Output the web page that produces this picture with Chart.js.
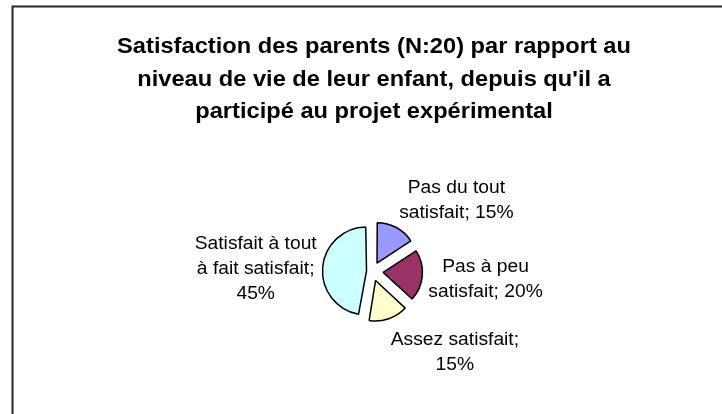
<!DOCTYPE html>
<html lang="fr">
<head>
<meta charset="utf-8">
<title>Satisfaction des parents</title>
<script src="https://cdn.jsdelivr.net/npm/chart.js@4/dist/chart.umd.min.js"></script>
<style>
  html, body { margin: 0; padding: 0; background: #fff; }
  #wrap { width: 722px; height: 414px; position: relative; }
</style>
</head>
<body>
<div id="wrap"><canvas id="pie" width="722" height="414"></canvas></div>
<script>
const titleLines = [
  'Satisfaction des parents (N:20) par rapport au',
  "niveau de vie de leur enfant, depuis qu'il a",
  'participé au projet expérimental'
];
const categories = [
  'Pas du tout satisfait',
  'Pas à peu satisfait',
  'Assez satisfait',
  'Satisfait à tout à fait satisfait'
];
const values = [15, 20, 15, 45];
const colors = ['#9999FF', '#993366', '#FFFFCC', '#CCFFFF'];

const FONT = 'Arial, "Liberation Sans", sans-serif';
const STRETCH = 1.1;    // text is a little wider than plain Arial
const EXPLODE = 11;     // distance each slice is pulled out
const RADIUS = 39;
const LABEL_GAP = 6;
const LABEL_WRAP = 135;
const LABEL_LINE = 25;

const total = values.reduce((s, v) => s + v, 0);

// Chart.js moves an arc by offset/4 * (2 - sin(circumference)); undo that
// so every slice sits the same distance from the centre
function sliceOffset(ctx) {
  const circ = ctx.dataset.data[ctx.dataIndex] / total * Math.PI * 2;
  return EXPLODE * 4 / (2 - Math.sin(Math.min(Math.PI, circ)));
}

function wrapText(ctx, text, maxWidth) {
  const words = text.split(' ');
  const lines = [];
  let line = '';
  words.forEach(w => {
    const test = line ? line + ' ' + w : w;
    if (line && ctx.measureText(test).width * STRETCH > maxWidth) {
      lines.push(line);
      line = w;
    } else {
      line = test;
    }
  });
  if (line) lines.push(line);
  return lines;
}

function drawStretched(ctx, text, x, y) {
  ctx.save();
  ctx.translate(x, y);
  ctx.scale(STRETCH, 1);
  ctx.fillText(text, 0, 0);
  ctx.restore();
}

const clamp = v => Math.max(-1, Math.min(1, v));

const framePlugin = {
  id: 'frame',
  beforeDraw(chart) {
    const ctx = chart.ctx;
    ctx.save();
    ctx.fillStyle = '#fff';
    ctx.fillRect(0, 0, chart.width, chart.height);
    ctx.strokeStyle = '#262626';
    ctx.lineWidth = 2;
    ctx.beginPath();
    ctx.moveTo(chart.width, 6.5);
    ctx.lineTo(12.5, 6.5);
    ctx.lineTo(12.5, chart.height);
    ctx.stroke();

    // title
    ctx.fillStyle = '#000';
    ctx.font = 'bold 21.5px ' + FONT;
    ctx.textAlign = 'center';
    ctx.textBaseline = 'middle';
    titleLines.forEach((t, i) => drawStretched(ctx, t, 374, 47.5 + i * 32.5));
    ctx.restore();
  }
};

const labelPlugin = {
  id: 'sliceLabels',
  afterDatasetsDraw(chart) {
    const ctx = chart.ctx;
    const meta = chart.getDatasetMeta(0);
    ctx.save();
    ctx.fillStyle = '#000';
    ctx.font = '17.5px ' + FONT;
    ctx.textAlign = 'center';
    ctx.textBaseline = 'middle';
    meta.data.forEach((arc, i) => {
      const p = arc.getProps(['x', 'y', 'startAngle', 'endAngle', 'outerRadius'], true);
      const mid = (p.startAngle + p.endAngle) / 2;
      const dx = Math.cos(mid), dy = Math.sin(mid);
      const r = p.outerRadius + EXPLODE + LABEL_GAP;
      const ax = p.x + dx * r, ay = p.y + dy * r;
      const lines = wrapText(ctx, categories[i] + '; ' + values[i] + '%', LABEL_WRAP);
      const w = Math.max(...lines.map(l => ctx.measureText(l).width * STRETCH));
      const h = lines.length * LABEL_LINE;
      // labels beside the pie stay centred on the ray, the others sit on a corner
      const cx = ax + w / 2 * clamp(dx * 3.1);
      const cy = ay + h / 2 * clamp(dy * Math.abs(dy) * 1.4) + 3;
      lines.forEach((l, j) => {
        drawStretched(ctx, l, cx, cy - h / 2 + LABEL_LINE * (j + 0.5));
      });
    });
    ctx.restore();
  }
};

new Chart(document.getElementById('pie'), {
  type: 'pie',
  data: {
    labels: categories,
    datasets: [{
      data: values,
      backgroundColor: colors,
      borderColor: '#000',
      borderWidth: 1.5,
      offset: sliceOffset,
      hoverOffset: 0
    }]
  },
  options: {
    responsive: false,
    animation: false,
    events: [],
    radius: RADIUS,
    layout: { padding: { left: 23, right: 0, top: 135, bottom: 6 } },
    plugins: {
      legend: { display: false },
      title: { display: false },
      tooltip: { enabled: false }
    }
  },
  plugins: [framePlugin, labelPlugin]
});
</script>
</body>
</html>
